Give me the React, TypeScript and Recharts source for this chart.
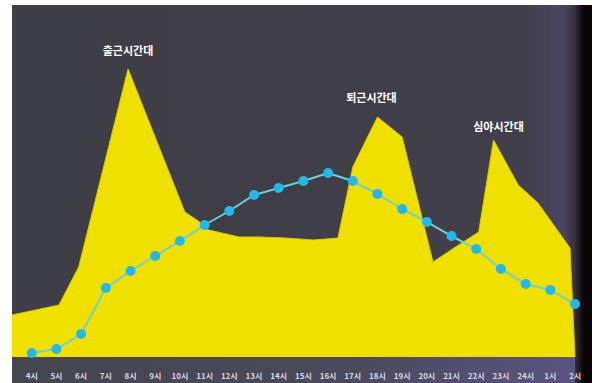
import { ComposedChart, Area, Line, XAxis, YAxis, ReferenceDot } from "recharts";

// 시간대별 이용량 (면적): 시각(시, 24 이후는 다음날) / 값
const areaHours = [3.2, 5.1, 5.9, 7.9, 10.2, 10.8, 11.0, 12.4, 13.2, 14.3, 15.4, 16.4, 17.0, 18.0, 19.0, 20.25, 21.1, 22.1, 22.7, 23.7, 24.5, 25.8, 26.0];
const areaValues = [42, 52, 90, 288, 145, 135, 128, 120, 120, 119, 117, 119, 190, 240, 220, 95, 109, 125, 217, 172, 154, 109, 0];

// 꺾은선 (시간 단위)
const lineHours = [4, 5, 6, 7, 8, 9, 10, 11, 12, 13, 14, 15, 16, 17, 18, 19, 20, 21, 22, 23, 24, 25, 26];
const lineValues = [4, 8, 23, 69, 86, 101, 116, 132, 146, 162, 169, 176, 184, 176, 163, 148, 135, 121, 108, 88, 73, 67, 53];

const tickLabel = (h: number) => (h > 24 ? `${h - 24}시` : `${h}시`);

const peaks = [
  { h: 7.9, v: 288, text: "출근시간대", dx: 0, off: 14 },
  { h: 18.0, v: 240, text: "퇴근시간대", dx: -6, off: 15 },
  { h: 22.7, v: 217, text: "심야시간대", dx: 5, off: 9 },
];

const areaData = areaHours.map((h, i) => ({ h, v: areaValues[i] }));
const lineData = lineHours.map((h, i) => ({ h, v: lineValues[i] }));

const font = '"Noto Sans CJK KR", "Noto Sans", sans-serif';

export default function App() {
  return (
    <div style={{ position: "absolute", left: 0, top: 0, width: 592, height: 383, background: "#ffffff", overflow: "hidden" }}>
      <div
        style={{
          position: "absolute",
          left: 12,
          top: 5,
          width: 580,
          height: 378,
          background:
            "linear-gradient(to right, #3e3e46 0%, #413f4a 88%, #4a4560 95%, #3a3040 97%, #0c0609 98.5%, #080406 100%)",
        }}
      />
      <div
        style={{
          position: "absolute",
          left: 12,
          top: 355,
          width: 563,
          height: 28,
          background: "linear-gradient(to right, #45454f 0%, #4a4a5c 60%, #5a5480 100%)",
        }}
      />
      <div style={{ position: "absolute", left: 0, top: 0 }}>
        <ComposedChart width={592} height={383} margin={{ top: 57, right: 17, left: 12, bottom: 0 }}>
          <XAxis
            dataKey="h"
            type="number"
            domain={[3.2, 26]}
            ticks={lineHours}
            tickFormatter={tickLabel}
            axisLine={false}
            tickLine={false}
            tickMargin={10}
            height={26}
            allowDuplicatedCategory={false}
            tick={{ fontSize: 8, fill: "#d8d8e0", fontFamily: font, fontWeight: 700 }}
            interval={0}
          />
          <YAxis hide domain={[0, 300]} />
          <Area
            data={areaData}
            dataKey="v"
            type="linear"
            fill="#f0e000"
            fillOpacity={1}
            stroke="#d8c800"
            strokeWidth={1}
            isAnimationActive={false}
          />
          <Line
            data={lineData}
            dataKey="v"
            type="linear"
            stroke="#6fd0d4"
            strokeWidth={2}
            dot={{ r: 5, fill: "#22b8e8", stroke: "#22b8e8", strokeWidth: 0 }}
            isAnimationActive={false}
          />
          {peaks.map((p) => (
            <ReferenceDot
              key={p.text}
              x={p.h}
              y={p.v}
              r={0}
              stroke="none"
              fill="none"
              label={{
                value: p.text,
                position: "top",
                offset: p.off,
                dx: p.dx,
                fill: "#ffffff",
                fontSize: 11,
                fontWeight: 700,
                fontFamily: font,
              }}
            />
          ))}
        </ComposedChart>
      </div>
    </div>
  );
}
